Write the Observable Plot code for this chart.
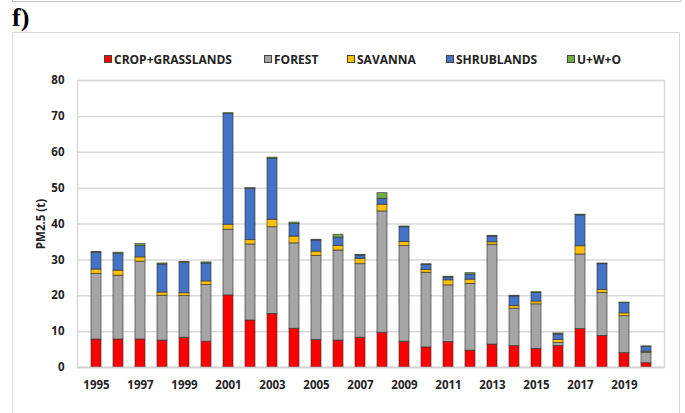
<!DOCTYPE html>
<html>
<head>
<meta charset="utf-8">
<script src="https://cdn.jsdelivr.net/npm/d3@7"></script>
<script src="https://cdn.jsdelivr.net/npm/@observablehq/plot@0.6"></script>
<style>
  html, body { margin: 0; padding: 0; background: #fff; }
  #wrap { position: relative; width: 685px; height: 413px; overflow: hidden; font-family: "Open Sans", "Liberation Sans", sans-serif; }
  #topline { position: absolute; left: 12px; top: -10px; width: 669px; height: 12px; border: 1.5px solid #c4c4c4; box-sizing: border-box; }
  #panel { position: absolute; left: 12px; top: 3px; font-family: "Liberation Serif", "DejaVu Serif", serif; font-weight: bold; font-size: 26px; line-height: 30px; }
  #box { position: absolute; left: 12px; top: 32px; width: 668px; height: 400px; border: 1.5px solid #d9d9d9; box-sizing: border-box; }
  #legend { position: absolute; top: 51px; left: 0; width: 685px; height: 16px; font-weight: bold; font-size: 12px; color: #222; white-space: nowrap; }
  #legend .item { position: absolute; top: 0; display: flex; align-items: center; height: 16px; }
  #legend .sw { width: 6px; height: 6px; border: 1px solid #444; margin-right: 2px; }
  #chart { position: absolute; left: 0; top: 0; }
</style>
</head>
<body>
<div id="wrap">
  <div id="topline"></div>
  <div id="panel">f)</div>
  <div id="box"></div>
  <div id="legend"></div>
  <div id="chart"></div>
</div>
<script>
const years = [1995,1996,1997,1998,1999,2000,2001,2002,2003,2004,2005,2006,2007,2008,2009,2010,2011,2012,2013,2014,2015,2016,2017,2018,2019,2020];
const seriesNames = ["CROP+GRASSLANDS","FOREST","SAVANNA","SHRUBLANDS","U+W+O"];
const seriesColors = ["#FF0000","#A5A5A5","#FFC000","#4472C4","#70AD47"];
const cropGrass = [7.8,7.8,7.8,7.5,8.3,7.2,20.1,13.1,14.9,10.8,7.7,7.5,8.3,9.7,7.2,5.6,7.1,4.7,6.4,6.0,5.2,6.0,10.7,8.8,4.0,1.2];
const forest    = [18.3,17.8,21.7,12.5,11.6,15.8,18.3,21.2,24.2,23.8,23.4,25.1,20.5,33.8,26.7,20.8,15.8,18.6,27.8,10.4,12.4,0.8,20.8,12.0,10.3,2.9];
const savanna   = [1.2,1.4,1.2,0.9,0.8,1.0,1.4,1.2,2.1,1.9,1.2,1.3,1.5,1.9,1.1,0.8,1.4,1.2,0.7,0.7,0.8,0.9,2.3,0.8,0.8,0.3];
const shrub     = [4.7,4.7,3.2,7.8,8.5,5.0,30.9,14.3,17.0,3.5,3.1,2.3,0.9,1.6,4.1,1.4,0.8,1.4,1.6,2.7,2.4,1.5,8.6,7.2,2.9,1.3];
const uwo       = [0.2,0.3,0.5,0.3,0.2,0.3,0.2,0.2,0.3,0.4,0.2,0.8,0.2,1.6,0.2,0.2,0.2,0.4,0.2,0.2,0.2,0.3,0.2,0.2,0.1,0.2];
const yTicks = [0,10,20,30,40,50,60,70,80];
const xTickYears = years.filter(y => y % 2 === 1);

const seriesValues = [cropGrass, forest, savanna, shrub, uwo];
const rows = [];
years.forEach((yr, i) => {
  seriesNames.forEach((s, j) => rows.push({year: yr, series: s, value: seriesValues[j][i]}));
});

// legend (item left positions in px)
const legendX = [104, 264, 347, 446, 567];
const legend = document.getElementById("legend");
seriesNames.forEach((s, j) => {
  const it = document.createElement("div");
  it.className = "item";
  it.style.left = legendX[j] + "px";
  it.innerHTML = `<span class="sw" style="background:${seriesColors[j]}"></span><span>${s}</span>`;
  legend.appendChild(it);
});

const chart = Plot.plot({
  width: 685,
  height: 413,
  marginLeft: 77,
  marginRight: 21,
  marginTop: 80,
  marginBottom: 46,
  style: {fontFamily: "'Open Sans', 'Liberation Sans', sans-serif", fontSize: "11.5px", fontWeight: "bold", color: "#222", background: "transparent"},
  x: {type: "band", domain: years, paddingInner: 0.56, paddingOuter: 0.28, ticks: xTickYears, tickFormat: d => String(d), tickSize: 0, tickPadding: 13, label: null},
  y: {domain: [0, 80], ticks: yTicks, tickSize: 0, tickPadding: 13, label: "PM2.5 (t)", labelAnchor: "center", labelArrow: "none", labelOffset: 41},
  color: {domain: seriesNames, range: seriesColors},
  marks: [
    Plot.gridY(yTicks, {stroke: "#d9d9d9", strokeOpacity: 1, strokeWidth: 1.5}),
    Plot.frame({stroke: "#d9d9d9", strokeWidth: 1.5}),
    Plot.barY(rows, Plot.stackY({order: seriesNames}, {x: "year", y: "value", fill: "series", stroke: "#333", strokeWidth: 0.8, strokeOpacity: 0.8})),
    Plot.ruleY([0], {stroke: "#d0d0d0", strokeWidth: 1.5})
  ]
});
document.getElementById("chart").appendChild(chart);
</script>
</body>
</html>
